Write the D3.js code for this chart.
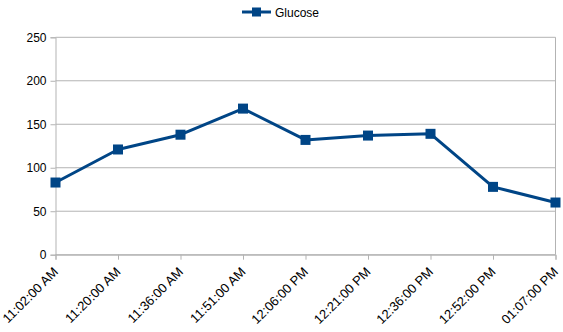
<!DOCTYPE html>
<html>
<head>
<meta charset="utf-8">
<script src="https://cdn.jsdelivr.net/npm/d3@7"></script>
<style>
  html, body { margin: 0; padding: 0; background: #fff; }
  svg { display: block; font-family: "Liberation Sans", Arial, sans-serif; }
</style>
</head>
<body>
<svg id="chart" width="563" height="332"></svg>
<script>
// Glucose readings over the session
const times = ["11:02:00 AM", "11:20:00 AM", "11:36:00 AM", "11:51:00 AM", "12:06:00 PM",
               "12:21:00 PM", "12:36:00 PM", "12:52:00 PM", "01:07:00 PM"];
const glucose = [83, 121, 138, 168, 132, 137, 139, 78, 60];
const yTicks = [0, 50, 100, 150, 200, 250];
const seriesName = "Glucose";

const W = 563, H = 332;
const margin = { left: 55.5, right: 7.5, top: 37.3, bottom: 77.3 };
const color = "#004586";
const grid = "#b3b3b3";

const svg = d3.select("#chart");

const x = d3.scalePoint()
  .domain(times)
  .range([margin.left, W - margin.right]);

const y = d3.scaleLinear()
  .domain([0, 250])
  .range([H - margin.bottom, margin.top]);

// horizontal gridlines
svg.append("g")
  .selectAll("line")
  .data(yTicks)
  .join("line")
  .attr("x1", margin.left)
  .attr("x2", W - margin.right)
  .attr("y1", d => y(d))
  .attr("y2", d => y(d))
  .attr("stroke", grid)
  .attr("stroke-width", 1);

// right edge of plot area
svg.append("line")
  .attr("x1", W - margin.right).attr("x2", W - margin.right)
  .attr("y1", margin.top).attr("y2", y(0))
  .attr("stroke", grid);

// y axis
const yAxis = svg.append("g")
  .attr("transform", `translate(${margin.left},0)`)
  .call(d3.axisLeft(y).tickValues(yTicks).tickSize(5).tickPadding(4));
yAxis.select(".domain").attr("stroke", grid);
yAxis.selectAll(".tick line").attr("stroke", grid);
yAxis.selectAll("text")
  .attr("fill", "#000")
  .style("font-size", "12px")
  .style("font-family", "Liberation Sans, Arial, sans-serif");

// x axis with labels rotated 45 degrees
const xAxis = svg.append("g")
  .attr("transform", `translate(0,${y(0)})`)
  .call(d3.axisBottom(x).tickSize(5).tickPadding(2));
xAxis.select(".domain").attr("stroke", grid);
xAxis.selectAll(".tick line").attr("stroke", grid);
xAxis.selectAll("text")
  .attr("fill", "#000")
  .style("font-size", "13px")
  .style("font-family", "Liberation Sans, Arial, sans-serif")
  .attr("text-anchor", "end")
  .attr("x", 0)
  .attr("y", 0)
  .attr("dy", "0")
  .attr("transform", "translate(3,18) rotate(-45)");

// series line
const line = d3.line()
  .x((d, i) => x(times[i]))
  .y(d => y(d));

svg.append("path")
  .datum(glucose)
  .attr("fill", "none")
  .attr("stroke", color)
  .attr("stroke-width", 3)
  .attr("stroke-linejoin", "round")
  .attr("d", line);

// square markers
const ms = 10;
svg.append("g")
  .selectAll("rect")
  .data(glucose)
  .join("rect")
  .attr("x", (d, i) => x(times[i]) - ms / 2)
  .attr("y", d => y(d) - ms / 2)
  .attr("width", ms)
  .attr("height", ms)
  .attr("fill", color);

// legend
const lg = svg.append("g").attr("transform", "translate(242,12)");
lg.append("line")
  .attr("x1", 0).attr("x2", 29)
  .attr("y1", 0).attr("y2", 0)
  .attr("stroke", color).attr("stroke-width", 3);
lg.append("rect")
  .attr("x", 14.5 - 4.5).attr("y", -4.5)
  .attr("width", 9).attr("height", 9)
  .attr("fill", color);
lg.append("text")
  .attr("x", 33).attr("y", 4.5)
  .style("font-size", "12px")
  .text(seriesName);
</script>
</body>
</html>
